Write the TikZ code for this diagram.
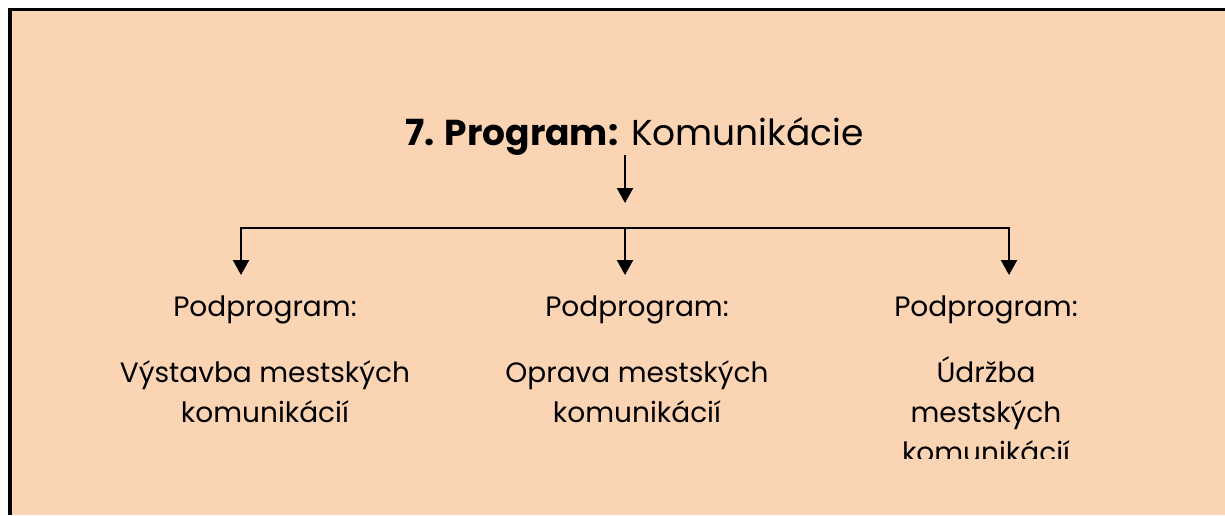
\documentclass[tikz,border=0pt]{standalone}
\usepackage{fontspec}
\setmainfont{Poppins}
\usetikzlibrary{arrows.meta}
\definecolor{peach}{HTML}{FBD4B4}
\begin{document}
\begin{tikzpicture}[x=1pt,y=-1pt,
 arr/.style={line width=2.2pt,-{Triangle[width=16pt,length=15pt]}},
 lbl/.style={font=\fontsize{28}{40}\selectfont, anchor=base, inner sep=0pt},
 ttl/.style={font=\fontsize{36}{46}\selectfont, anchor=base, inner sep=0pt}]
\useasboundingbox (0,0) rectangle (1225,515);
\fill[peach] (8,8) rectangle (1225,515);
\fill[black] (8,8) rectangle (1225,11);
\fill[black] (8,8) rectangle (12,515);
\node[ttl] (title) at (634.5,145) {\textbf{7. Program:} Komunikácie};
\coordinate (t0) at (625,155);
\coordinate (hub) at (625,228);
\coordinate (tipL) at (241,275);
\coordinate (tipM) at (625,275);
\coordinate (tipR) at (1009,275);
\draw[arr] (t0) -- (625,203);
\draw[arr] (hub) -| (tipL);
\draw[arr] (hub) -- (tipM);
\draw[arr] (hub) -| (tipR);
\node[lbl] (pL) at (265,316) {Podprogram:};
\node[lbl] (pM) at (637,316) {Podprogram:};
\node[lbl] (pR) at (986,316) {Podprogram:};
\node[lbl] (aL1) at (265,382) {Výstavba mestských};
\node[lbl] (aL2) at (265,422) {komunikácií};
\node[lbl] (aM1) at (637,382) {Oprava mestských};
\node[lbl] (aM2) at (637,422) {komunikácií};
\begin{scope}
\clip (860,330) rectangle (1120,458);
\node[lbl] (aR1) at (986,382) {Údržba};
\node[lbl] (aR2) at (986,422) {mestských};
\node[lbl] (aR3) at (986,462) {komunikácií};
\end{scope}
\end{tikzpicture}
\end{document}
